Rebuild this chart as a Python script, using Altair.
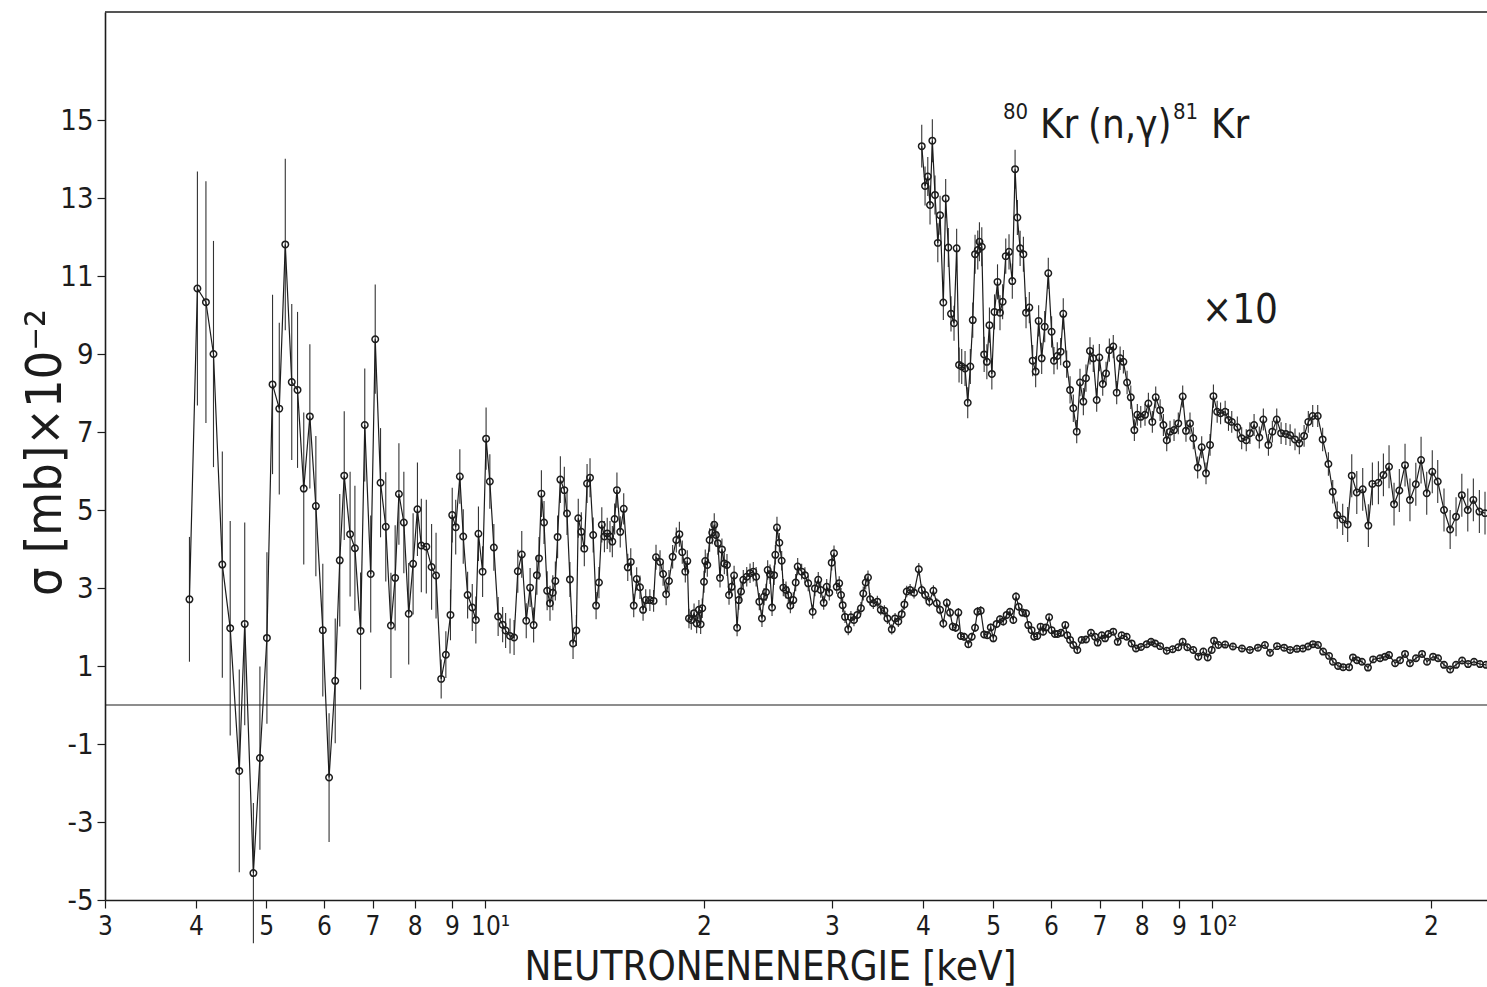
import altair as alt
import pandas as pd

FONT = "Liberation Sans Narrow, DejaVu Sans Condensed, Arial Narrow, sans-serif"
INK = "#1c1c1c"

# ---------------- lower series (sigma x 10^-2 mb) ----------------
lowA_E = [3.92, 4.02, 4.13, 4.23, 4.35, 4.46, 4.59, 4.67, 4.80, 4.90, 5.01, 5.10, 5.21, 5.31, 5.42, 5.52,
          5.63, 5.74, 5.85, 5.98, 6.10, 6.22, 6.31, 6.40, 6.52, 6.62, 6.74, 6.83, 6.96, 7.06, 7.18, 7.30,
          7.42, 7.52, 7.61, 7.73, 7.85, 7.96, 8.07, 8.17, 8.30, 8.44, 8.56, 8.70, 8.83, 8.96, 9.01, 9.11,
          9.23, 9.33, 9.46, 9.60, 9.71, 9.79, 9.92]
lowA_S = [2.71, 10.68, 10.33, 9.00, 3.60, 1.97, -1.69, 2.08, -4.31, -1.36, 1.72, 8.22, 7.60, 11.81, 8.28, 8.08,
          5.55, 7.40, 5.10, 1.92, -1.86, 0.62, 3.71, 5.88, 4.38, 4.02, 1.90, 7.18, 3.36, 9.38, 5.70, 4.57,
          2.04, 3.26, 5.41, 4.68, 2.34, 3.62, 5.02, 4.09, 4.06, 3.54, 3.32, 0.67, 1.29, 2.31, 4.87, 4.56,
          5.86, 4.32, 2.82, 2.50, 2.18, 4.39, 3.42]
lowA_D = [1.6, 3.0, 3.1, 2.9, 2.9, 2.75, 2.6, 2.6, 1.8, 2.35, 2.2, 2.3, 2.2, 2.2, 2.0, 2.0,
          1.95, 1.85, 1.8, 1.7, 1.65, 1.6, 1.7, 1.65, 1.6, 1.6, 1.5, 1.45, 1.5, 1.4, 1.4, 1.4,
          1.35, 1.35, 1.3, 1.3, 1.3, 1.3, 1.2, 1.2, 1.2, 1.1, 1.1, 0.5, 0.6, 0.65, 0.7, 0.7,
          0.7, 0.7, 0.6, 0.6, 0.6, 0.7, 0.65]

lowB_E = [10.03, 10.15, 10.28, 10.42, 10.57, 10.67, 10.82, 10.96, 11.09, 11.23, 11.39, 11.53, 11.66, 11.78,
          11.86, 11.95, 12.05, 12.17, 12.28, 12.39, 12.49, 12.58, 12.69, 12.85, 12.96, 13.08, 13.21, 13.35,
          13.43, 13.56, 13.69, 13.81, 13.94, 14.08, 14.21, 14.34, 14.47, 14.59, 14.72, 14.85, 14.96, 15.07,
          15.18, 15.34, 15.51, 15.71, 15.86, 16.01, 16.16, 16.33, 16.49, 16.63, 16.85, 17.05, 17.18, 17.40,
          17.57, 17.74, 17.90, 18.11, 18.32, 18.50, 18.67, 18.85, 18.97, 19.07, 19.21, 19.38, 19.54, 19.68,
          19.79, 19.89]
lowB_S = [6.83, 5.73, 4.04, 2.27, 2.06, 1.91, 1.77, 1.73, 3.43, 3.86, 2.16, 3.01, 2.05, 3.33,
          3.76, 5.42, 4.68, 2.93, 2.61, 2.88, 3.18, 4.31, 5.78, 5.51, 4.91, 3.22, 1.58, 1.91,
          4.79, 4.44, 4.01, 5.68, 5.83, 4.36, 2.55, 3.14, 4.62, 4.32, 4.40, 4.32, 4.19, 4.77,
          5.51, 4.44, 5.03, 3.53, 3.67, 2.55, 3.23, 3.02, 2.44, 2.69, 2.69, 2.67, 3.79, 3.67,
          3.36, 2.84, 3.18, 3.80, 4.23, 4.38, 3.92, 3.42, 3.69, 2.22, 2.18, 2.35, 2.09, 2.44,
          2.07, 2.48]
lowB_D = [0.8, 0.7, 0.6, 0.5, 0.45, 0.45, 0.45, 0.45, 0.55, 0.6,
          0.45, 0.5, 0.45, 0.5, 0.55, 0.6, 0.55, 0.5, 0.45, 0.45,
          0.5, 0.55, 0.6, 0.6, 0.55, 0.45, 0.4, 0.4, 0.5, 0.5,
          0.45, 0.5, 0.5, 0.45, 0.35, 0.4, 0.45, 0.4, 0.4, 0.4,
          0.4, 0.4, 0.45, 0.4, 0.4, 0.35, 0.35, 0.3, 0.3, 0.3,
          0.28, 0.28, 0.28, 0.28, 0.32, 0.3, 0.3, 0.28, 0.28, 0.3,
          0.32, 0.32, 0.3, 0.28, 0.28, 0.25, 0.25, 0.25, 0.25, 0.25,
          0.25, 0.25]

lowC_E = [20.00, 20.08, 20.21, 20.36, 20.53, 20.66, 20.77, 20.90, 21.04, 21.17, 21.33, 21.51, 21.65, 21.83,
          22.00, 22.21, 22.33, 22.49, 22.65, 22.90, 23.14, 23.38, 23.59, 23.83, 24.03, 24.19, 24.34, 24.47,
          24.65, 24.81, 24.97, 25.07, 25.20, 25.39, 25.58, 25.71, 25.93, 26.12, 26.29, 26.54, 26.74, 26.91,
          27.25, 27.53, 27.82, 28.22, 28.42, 28.72, 28.94, 29.22, 29.50, 29.74, 29.97, 30.19, 30.45, 30.69,
          30.87, 31.03, 31.26, 31.58, 31.85, 32.16, 32.50, 32.88, 33.12, 33.38, 33.62, 33.84, 34.19, 34.63,
          35.01, 35.41, 35.75, 36.25, 36.63, 37.01, 37.41, 37.73, 38.01, 38.42, 38.90, 39.49, 39.86]
lowC_S = [3.16, 3.69, 3.59, 4.23, 4.42, 4.62, 4.36, 4.15, 3.26, 3.99, 3.63, 3.59, 2.82, 3.03,
          3.32, 1.98, 2.69, 2.91, 3.21, 3.29, 3.38, 3.42, 3.29, 2.65, 2.22, 2.78, 2.89, 3.46,
          3.35, 2.50, 3.33, 3.85, 4.55, 4.16, 3.70, 3.01, 2.95, 2.82, 2.55, 2.69, 3.14, 3.55,
          3.42, 3.33, 3.12, 2.39, 2.99, 3.21, 2.95, 2.62, 3.03, 2.88, 3.65, 3.89, 3.03, 3.12,
          2.82, 2.56, 2.26, 1.94, 2.25, 2.18, 2.31, 2.48, 2.86, 3.14, 3.27, 2.71, 2.61, 2.65,
          2.44, 2.42, 2.22, 1.94, 2.22, 2.14, 2.33, 2.58, 2.91, 2.95, 2.88, 3.48, 2.95]
lowC_D = [0.28, 0.3, 0.3, 0.3, 0.3, 0.3, 0.3, 0.3, 0.25, 0.28,
          0.28, 0.28, 0.25, 0.25, 0.25, 0.22, 0.25, 0.25, 0.25, 0.25,
          0.25, 0.25, 0.25, 0.22, 0.22, 0.22, 0.22, 0.25, 0.25, 0.22,
          0.25, 0.25, 0.28, 0.25, 0.25, 0.22, 0.22, 0.22, 0.2, 0.2,
          0.22, 0.22, 0.2, 0.2, 0.2, 0.18, 0.2, 0.2, 0.2, 0.18,
          0.2, 0.2, 0.2, 0.2, 0.18, 0.18, 0.18, 0.18, 0.16, 0.15,
          0.16, 0.16, 0.16, 0.16, 0.18, 0.18, 0.18, 0.16, 0.15, 0.15,
          0.14, 0.14, 0.14, 0.13, 0.14, 0.14, 0.14, 0.14, 0.15, 0.15,
          0.15, 0.16, 0.14]

lowD_E = [40.31, 40.83, 41.36, 41.80, 42.24, 42.68, 43.15, 43.60, 43.97, 44.39, 44.76, 45.11, 45.58, 46.20,
          46.70, 47.19, 47.54, 48.05, 48.57, 49.07, 49.60, 50.00, 50.53, 51.07, 51.60, 52.16, 52.71, 53.27,
          53.73, 54.19, 54.82, 55.46, 55.86, 56.45, 56.92, 57.46, 58.08, 58.55, 59.06, 59.67, 60.14, 60.77,
          61.29, 61.94, 62.81, 63.20, 63.76, 64.42, 65.24, 66.15, 67.06, 68.13, 69.00, 69.59, 70.49, 71.23,
          71.98, 73.11, 74.15, 75.08, 76.28, 77.49, 78.56, 79.82, 81.29, 82.41, 83.46, 84.80, 86.60, 88.25,
          89.83, 91.09, 92.43, 94.20, 95.72, 97.24, 98.60, 99.86, 100.6, 102.0]
lowD_S = [2.82, 2.65, 2.93, 2.61, 2.44, 2.09, 2.62, 2.37, 2.01, 1.98, 2.37, 1.77, 1.75, 1.56,
          1.75, 1.98, 2.39, 2.42, 1.81, 1.79, 1.99, 1.71, 2.08, 2.20, 2.14, 2.31, 2.39, 2.18,
          2.78, 2.52, 2.37, 2.35, 2.05, 1.92, 1.75, 1.77, 2.01, 1.88, 1.99, 2.25, 1.92, 1.82,
          1.82, 1.85, 2.05, 1.79, 1.67, 1.54, 1.41, 1.67, 1.68, 1.85, 1.75, 1.60, 1.79, 1.71,
          1.82, 1.88, 1.62, 1.79, 1.75, 1.58, 1.45, 1.49, 1.56, 1.62, 1.58, 1.51, 1.39, 1.43,
          1.48, 1.62, 1.48, 1.41, 1.24, 1.37, 1.22, 1.41, 1.65, 1.54]
lowD_D = [0.14, 0.13, 0.14, 0.13, 0.12, 0.12, 0.12, 0.12, 0.11, 0.11,
          0.12, 0.1, 0.1, 0.1, 0.1, 0.11, 0.12, 0.12, 0.1, 0.1,
          0.1, 0.1, 0.1, 0.1, 0.1, 0.1, 0.1, 0.1, 0.11, 0.1,
          0.1, 0.1, 0.09, 0.09, 0.09, 0.09, 0.09, 0.09, 0.09, 0.09,
          0.09, 0.08, 0.08, 0.08, 0.08, 0.08, 0.08, 0.08, 0.08, 0.08,
          0.08, 0.08, 0.08, 0.08, 0.08, 0.08, 0.08, 0.08, 0.08, 0.08,
          0.07, 0.07, 0.07, 0.07, 0.07, 0.07, 0.07, 0.07, 0.07, 0.07,
          0.07, 0.07, 0.07, 0.07, 0.07, 0.07, 0.07, 0.07, 0.07, 0.07]

lowE_E = [104.2, 106.8, 109.9, 112.7, 115.6, 118.2, 120.1, 122.8, 125.6, 128.0, 130.8, 133.3, 135.5, 137.6,
          139.8, 142.1, 144.8, 146.6, 149.0, 151.4, 154.3, 156.2, 158.2, 160.7, 163.8, 166.5, 170.2, 172.9,
          175.1, 178.5, 181.3, 184.2, 187.1, 190.7, 194.4, 197.5, 201.3, 204.5, 208.4, 212.5, 216.5, 220.7,
          224.9, 229.2, 233.6, 238.1]
lowE_S = [1.55, 1.50, 1.45, 1.41, 1.47, 1.54, 1.34, 1.51, 1.47, 1.41, 1.44, 1.45, 1.50, 1.56,
          1.54, 1.37, 1.26, 1.11, 1.00, 0.97, 0.97, 1.22, 1.15, 1.11, 0.96, 1.17, 1.20, 1.24,
          1.28, 1.07, 1.15, 1.31, 1.07, 1.20, 1.31, 1.11, 1.24, 1.20, 1.03, 0.91, 1.03, 1.14,
          1.05, 1.11, 1.05, 1.03]
lowE_D = [0.07, 0.07, 0.07, 0.07, 0.07, 0.07, 0.07, 0.07, 0.07, 0.07, 0.07, 0.07, 0.07, 0.07,
          0.07, 0.07, 0.07, 0.07, 0.08, 0.08, 0.08, 0.08, 0.08, 0.08, 0.08, 0.08, 0.08, 0.08,
          0.08, 0.08, 0.08, 0.08, 0.08, 0.08, 0.08, 0.08, 0.08, 0.08, 0.08, 0.08, 0.08, 0.08,
          0.08, 0.08, 0.08, 0.08]

# ---------------- upper series (x 10) ----------------
upA_E = [39.86, 40.28, 40.63, 40.92, 41.22, 41.57, 41.94, 42.24, 42.68, 43.00, 43.36, 43.73, 44.15, 44.52,
         44.86, 45.24, 45.72, 46.11, 46.49, 46.85, 47.19, 47.60, 47.85, 48.21, 48.57, 48.99, 49.39, 49.77,
         50.19, 50.67, 51.07, 51.50, 52.01, 52.55, 53.10, 53.57, 53.96, 54.43, 55.00, 55.46, 56.04, 56.64,
         57.18, 57.72, 58.28, 58.84, 59.51, 60.14, 60.59, 61.23, 61.89, 62.40, 63.08, 63.76, 64.42, 65.12,
         65.80, 66.50, 67.06, 67.91, 68.62, 69.37, 69.95, 70.71, 71.46, 72.21, 73.11, 73.91, 74.71, 75.49,
         76.38, 77.28, 78.16, 78.90, 79.76, 80.84, 81.71, 82.74, 83.63, 84.80, 85.69, 86.60, 87.51, 88.63,
         89.83, 91.09, 92.04, 93.22, 94.20, 95.52, 96.74, 98.07, 99.33]
upA_S = [14.33, 13.31, 13.55, 12.82, 14.47, 13.08, 11.85, 12.56, 10.32, 12.99, 11.73, 10.03, 9.79, 11.71,
         8.72, 8.68, 8.63, 7.75, 8.68, 9.87, 11.56, 11.67, 11.88, 11.75, 8.99, 8.80, 9.74, 8.49,
         10.08, 10.85, 10.06, 10.34, 11.51, 11.62, 10.87, 13.74, 12.50, 11.71, 11.56, 10.06, 10.19, 8.83,
         8.55, 9.85, 8.89, 9.70, 11.07, 9.57, 8.83, 8.95, 9.06, 10.03, 8.74, 8.08, 7.61, 7.01,
         8.27, 7.78, 8.38, 9.08, 8.89, 7.82, 8.91, 8.23, 8.50, 9.10, 9.19, 8.01, 8.89, 8.80,
         8.27, 7.89, 7.05, 7.44, 7.39, 7.44, 7.73, 7.26, 7.89, 7.56, 7.18, 6.79, 7.01, 7.05,
         7.22, 7.91, 7.03, 7.22, 6.84, 6.09, 6.61, 5.94, 6.67]
upA_D = [0.55, 0.5, 0.5, 0.5, 0.55, 0.5, 0.5, 0.5, 0.45, 0.5,
         0.5, 0.45, 0.45, 0.5, 0.45, 0.45, 0.45, 0.4, 0.45, 0.45,
         0.5, 0.5, 0.5, 0.5, 0.45, 0.45, 0.45, 0.4, 0.45, 0.45,
         0.45, 0.45, 0.45, 0.45, 0.45, 0.5, 0.45, 0.45, 0.45, 0.4,
         0.4, 0.4, 0.4, 0.4, 0.4, 0.4, 0.4, 0.4, 0.35, 0.35,
         0.35, 0.4, 0.35, 0.35, 0.35, 0.3, 0.35, 0.35, 0.35, 0.35,
         0.35, 0.3, 0.35, 0.3, 0.3, 0.3, 0.3, 0.3, 0.3, 0.3,
         0.3, 0.3, 0.28, 0.28, 0.28, 0.28, 0.28, 0.28, 0.28, 0.28,
         0.28, 0.28, 0.28, 0.28, 0.28, 0.28, 0.28, 0.28, 0.28, 0.28,
         0.28, 0.28, 0.28]

upB_E = [100.4, 101.6, 102.7, 104.2, 105.3, 106.4, 108.3, 109.8, 111.4, 112.7, 114.2, 116.1, 117.6, 119.5,
         121.0, 122.7, 124.4, 126.3, 128.0, 130.0, 131.8, 133.8, 135.6, 137.5, 139.7, 141.9, 144.5, 146.5,
         148.6, 151.2, 153.6, 155.6, 158.1, 161.1, 164.0, 166.1, 169.3, 172.0, 175.1, 177.9, 180.9, 184.2,
         187.1, 190.6, 193.8, 197.3, 200.8, 204.3, 208.4, 212.5, 216.5, 220.5, 224.7, 228.7, 233.1, 237.3]
upB_S = [7.92, 7.52, 7.48, 7.52, 7.31, 7.26, 7.12, 6.84, 6.79, 6.97, 7.18, 6.86, 7.32, 6.67,
         7.01, 7.32, 6.97, 6.95, 6.92, 6.81, 6.71, 6.90, 7.26, 7.41, 7.41, 6.81, 6.18, 5.47,
         4.87, 4.76, 4.63, 5.88, 5.45, 5.53, 4.60, 5.67, 5.70, 5.90, 6.11, 5.15, 5.50, 6.15,
         5.26, 5.66, 6.28, 5.43, 5.98, 5.73, 5.00, 4.50, 4.83, 5.38, 5.00, 5.26, 4.96, 4.92]
upB_D = [0.3, 0.28, 0.28, 0.28, 0.28, 0.28, 0.28, 0.28, 0.28, 0.28,
         0.28, 0.28, 0.28, 0.28, 0.28, 0.28, 0.28, 0.28, 0.28, 0.28,
         0.28, 0.28, 0.28, 0.28, 0.28, 0.3, 0.3, 0.3, 0.35, 0.4,
         0.45, 0.55, 0.55, 0.55, 0.55, 0.55, 0.55, 0.55, 0.55, 0.55,
         0.55, 0.55, 0.55, 0.55, 0.6, 0.55, 0.55, 0.55, 0.55, 0.5,
         0.5, 0.55, 0.55, 0.55, 0.55, 0.55]

# ---------------- axes ----------------
x_ticks = [3, 4, 5, 6, 7, 8, 9, 10, 20, 30, 40, 50, 60, 70, 80, 90, 100, 200]
x_labels = ["3", "4", "5", "6", "7", "8", "9", "10\u00b9", "2", "3", "4", "5", "6", "7", "8", "9", "10\u00b2", "2"]
y_ticks = [-5, -3, -1, 1, 3, 5, 7, 9, 11, 13, 15]
X_DOMAIN = [3, 238.8]
Y_DOMAIN = [-5, 17.77]

W, H = 1382, 888


def frame(E, S, D, name):
    assert len(E) == len(S) == len(D), (name, len(E), len(S), len(D))
    return pd.DataFrame({
        "E": E, "S": S,
        "lo": [s - d for s, d in zip(S, D)],
        "hi": [s + d for s, d in zip(S, D)],
        "series": name,
    })


lower = pd.concat([
    frame(lowA_E, lowA_S, lowA_D, "lower"),
    frame(lowB_E, lowB_S, lowB_D, "lower"),
    frame(lowC_E, lowC_S, lowC_D, "lower"),
    frame(lowD_E, lowD_S, lowD_D, "lower"),
    frame(lowE_E, lowE_S, lowE_D, "lower"),
])
upper = pd.concat([
    frame(upA_E, upA_S, upA_D, "upper"),
    frame(upB_E, upB_S, upB_D, "upper"),
])
data = pd.concat([lower, upper], ignore_index=True)
data["order"] = range(len(data))

x_expr = " : ".join(f"datum.value == {v} ? '{l}'" for v, l in zip(x_ticks, x_labels)) + " : ''"
y_expr = "datum.value < 0 ? '-' + format(-datum.value, 'd') : format(datum.value, 'd')"

xscale = alt.Scale(type="log", domain=X_DOMAIN, nice=False)
yscale = alt.Scale(domain=Y_DOMAIN, nice=False, zero=False)

x_axis = alt.Axis(values=x_ticks, labelExpr=x_expr, grid=False,
                  title="NEUTRONENENERGIE  [keV]", titleFont=FONT, titleFontSize=40,
                  titleFontWeight="normal", titleColor=INK, titleX=665, titleY=79,
                  titleAlign="center", titleBaseline="alphabetic",
                  labelFont=FONT, labelFontSize=26, labelColor=INK, labelPadding=5,
                  labelOffset={"condition": {"test": "datum.value == 10 || datum.value == 100", "value": 5},
                               "value": 0},
                  labelOverlap=False, labelFlush=False, labelBound=False,
                  tickSize=8, tickColor=INK, tickWidth=1.2,
                  domainColor=INK, domainWidth=1.6)
y_axis = alt.Axis(values=y_ticks, labelExpr=y_expr, grid=False,
                  title="\u03c3 [mb]\u00d710\u207b\u00b2", titleFont=FONT, titleFontSize=50,
                  titleFontWeight="normal", titleColor=INK, titleX=-60, titleY=440,
                  titleAngle=270, titleAlign="center", titleBaseline="middle",
                  labelFont=FONT, labelFontSize=29, labelColor=INK, labelPadding=4,
                  labelOverlap=False, labelFlush=False, labelBound=False,
                  tickSize=8, tickColor=INK, tickWidth=1.2,
                  domainColor=INK, domainWidth=1.6)

X = alt.X("E:Q", scale=xscale, axis=x_axis)

base = alt.Chart(data)

errbars = base.mark_rule(color="#333333", strokeWidth=1.1).encode(
    x=X,
    y=alt.Y("lo:Q", scale=yscale, axis=y_axis),
    y2="hi:Q",
)
lines = base.mark_line(color=INK, strokeWidth=1.2).encode(
    x=X,
    y=alt.Y("S:Q", scale=yscale, axis=y_axis),
    detail="series:N",
    order="order:Q",
)
points = base.mark_point(shape="circle", filled=False, size=42, strokeWidth=1.5,
                         color=INK, opacity=1).encode(
    x=X,
    y=alt.Y("S:Q", scale=yscale, axis=y_axis),
)

zero = alt.Chart(pd.DataFrame({"S": [0]})).mark_rule(color=INK, strokeWidth=1.1).encode(
    y=alt.Y("S:Q", scale=yscale, axis=y_axis)
)
one = pd.DataFrame({"a": [0]})
top = alt.Chart(one).mark_rule(color=INK, strokeWidth=1.6).encode(
    x=alt.value(0), x2=alt.value(W), y=alt.value(0)
)


def label(text, x, y, size):
    return alt.Chart(one).mark_text(text=text, font=FONT, fontSize=size, align="left",
                                    baseline="alphabetic", color=INK).encode(
        x=alt.value(x), y=alt.value(y))


annot = [
    label("80", 898, 107, 22),
    label("Kr", 935, 126, 40),
    label("(n,\u03b3)", 983, 126, 40),
    label("81", 1068, 107, 22),
    label("Kr", 1106, 126, 40),
    label("\u00d710", 1097, 311, 40),
]

chart = alt.layer(errbars, lines, points, zero, top, *annot).properties(
    width=W, height=H,
    padding={"left": 105, "top": 12, "right": 0, "bottom": 87},
    autosize=alt.AutoSizeParams(type="none"),
    background="white",
).configure_view(stroke=None)

chart.save("out.html", embed_options={"renderer": "svg", "actions": False})
